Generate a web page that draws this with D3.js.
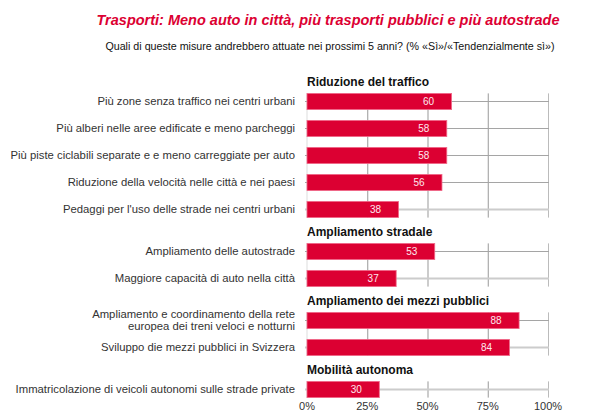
<!DOCTYPE html>
<html>
<head>
<meta charset="utf-8">
<script src="https://cdn.jsdelivr.net/npm/d3@7"></script>
<style>
  html, body { margin: 0; padding: 0; background: #fff; }
  svg { display: block; }
  text { font-family: "Liberation Sans", Arial, sans-serif; }
</style>
</head>
<body>
<svg id="chart" width="599" height="417"></svg>
<script>
// ---- data ----
const title = "Trasporti: Meno auto in città, più trasporti pubblici e più autostrade";
const subtitle = "Quali di queste misure andrebbero attuate nei prossimi 5 anni? (% «Sì»/«Tendenzialmente sì»)";
const groups = ["Riduzione del traffico", "Ampliamento stradale", "Ampliamento dei mezzi pubblici", "Mobilità autonoma"];
const groupOf = [0, 0, 0, 0, 0, 1, 1, 2, 2, 3];
const categories = [
  "Più zone senza traffico nei centri urbani",
  "Più alberi nelle aree edificate e meno parcheggi",
  "Più piste ciclabili separate e e meno carreggiate per auto",
  "Riduzione della velocità nelle città e nei paesi",
  "Pedaggi per l'uso delle strade nei centri urbani",
  "Ampliamento delle autostrade",
  "Maggiore capacità di auto nella città",
  "Ampliamento e coordinamento della rete\neuropea dei treni veloci e notturni",
  "Sviluppo die mezzi pubblici in Svizzera",
  "Immatricolazione di veicoli autonomi sulle strade private"
];
const values = [60, 58, 58, 56, 38, 53, 37, 88, 84, 30];
const ticks = [0, 25, 50, 75, 100];
const tickLabels = ["0%", "25%", "50%", "75%", "100%"];

// ---- layout ----
const svg = d3.select("#chart");
const RED = "#DC0032";
const x = d3.scaleLinear().domain([0, 100]).range([307, 548]);
const rowStep = 27;

svg.append("text").attr("x", 328).attr("y", 25).attr("text-anchor", "middle")
  .attr("font-size", 14.5).attr("font-weight", "bold").attr("font-style", "italic")
  .attr("fill", RED).text(title);
svg.append("text").attr("x", 330).attr("y", 50).attr("text-anchor", "middle")
  .attr("font-size", 10.7).attr("fill", "#111").text(subtitle);

let headerY = 82;
groups.forEach((g, gi) => {
  const idx = categories.map((c, i) => i).filter(i => groupOf[i] === gi);
  const y0 = headerY + 6;
  const y = d3.scaleBand().domain(idx).range([y0, y0 + rowStep * idx.length])
    .paddingInner(0.4).paddingOuter(0.2);
  const gg = svg.append("g");

  gg.append("text").attr("x", x(0)).attr("y", headerY).attr("dy", "0.35em")
    .attr("font-size", 12).attr("font-weight", "bold").attr("fill", "#111").text(g);

  const top = y(idx[0]);
  const bottom = y(idx[idx.length - 1]) + y.bandwidth();

  // left edge
  gg.append("line").attr("x1", x(0)).attr("x2", x(0)).attr("y1", top).attr("y2", bottom)
    .attr("stroke", "#ddd").attr("stroke-width", 1);
  // vertical grid
  gg.selectAll("line.vg").data(ticks.slice(1)).join("line").attr("class", "vg")
    .attr("x1", d => x(d) + 0.5).attr("x2", d => x(d) + 0.5)
    .attr("y1", top).attr("y2", bottom)
    .attr("stroke", d => d === 100 ? "#bbb" : "#999").attr("stroke-width", 1);
  // row lines
  gg.selectAll("line.rl").data(idx).join("line").attr("class", "rl")
    .attr("x1", x(0) - 2).attr("x2", x(100) + 1)
    .attr("y1", i => y(i) + y.bandwidth() / 2).attr("y2", i => y(i) + y.bandwidth() / 2)
    .attr("stroke", (i, k) => k === idx.length - 1 ? "#ccc" : "#a5a5a5")
    .attr("stroke-width", (i, k) => k === idx.length - 1 ? 2 : 1);
  // bars
  gg.selectAll("rect").data(idx).join("rect")
    .attr("x", x(0)).attr("y", i => y(i))
    .attr("width", i => x(values[i]) - x(0)).attr("height", y.bandwidth())
    .attr("fill", RED).attr("stroke", "#f06a8a").attr("stroke-width", 0.8);
  // value labels
  gg.selectAll("text.val").data(idx).join("text").attr("class", "val")
    .attr("x", i => x(values[i]) - 23).attr("y", i => y(i) + y.bandwidth() / 2)
    .attr("dy", "0.35em").attr("text-anchor", "middle")
    .attr("font-size", 10).attr("fill", "#fde8ee").text(i => values[i]);
  // category labels
  gg.selectAll("text.cat").data(idx).join("text").attr("class", "cat")
    .attr("text-anchor", "end").attr("font-size", 11.3).attr("fill", "#333")
    .each(function(i) {
      const lines = categories[i].split("\n");
      const cy = y(i) + y.bandwidth() / 2;
      const t = d3.select(this);
      lines.forEach((ln, k) => {
        t.append("tspan").attr("x", 295)
          .attr("y", cy + (k - (lines.length - 1) / 2) * 12)
          .attr("dy", "0.35em").text(ln);
      });
    });

  headerY = y0 + rowStep * idx.length + 9;
});

// x axis labels
svg.selectAll("text.tick").data(ticks).join("text").attr("class", "tick")
  .attr("x", d => x(d)).attr("y", 406).attr("dy", "0.35em")
  .attr("text-anchor", "middle").attr("font-size", 11).attr("fill", "#333")
  .text((d, i) => tickLabels[i]);
</script>
</body>
</html>
